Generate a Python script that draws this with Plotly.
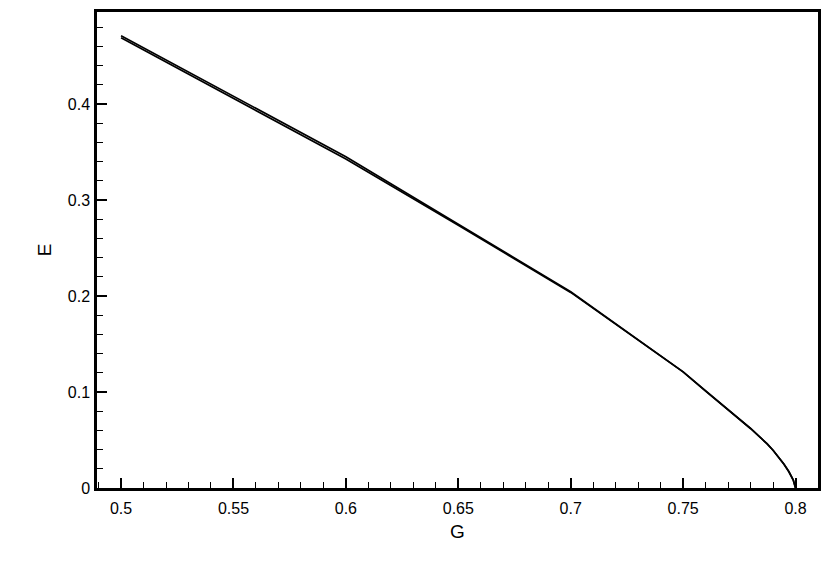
import plotly.graph_objects as go

# curve 1 (slightly upper one between 0.5 and 0.7)
g_1 = [0.5, 0.6, 0.7, 0.75, 0.76, 0.774, 0.78, 0.7874, 0.79, 0.7948, 0.797, 0.799, 0.8]
e_1 = [0.4712, 0.3452, 0.2045, 0.121, 0.101, 0.074, 0.062, 0.046, 0.0394, 0.025, 0.0172, 0.0082, 0.0]

# curve 2
g_2 = [0.5, 0.55, 0.6, 0.65, 0.7, 0.75, 0.76, 0.774, 0.78, 0.7874, 0.79, 0.7948, 0.797, 0.799, 0.8]
e_2 = [0.4692, 0.4062, 0.3428, 0.2738, 0.2038, 0.121, 0.101, 0.074, 0.062, 0.046, 0.0394, 0.025, 0.0172, 0.0082, 0.0]

x_ticks = [0.5, 0.55, 0.6, 0.65, 0.7, 0.75, 0.8]
x_labels = ["0.5", "0.55", "0.6", "0.65", "0.7", "0.75", "0.8"]
y_ticks = [0, 0.1, 0.2, 0.3, 0.4]
y_labels = ["0", "0.1", "0.2", "0.3", "0.4"]

font_name = "Liberation Sans, Arial, sans-serif"

fig = go.Figure()
fig.add_trace(go.Scatter(x=g_1, y=e_1, mode="lines", line=dict(color="black", width=1.7)))
fig.add_trace(go.Scatter(x=g_2, y=e_2, mode="lines", line=dict(color="black", width=1.7)))

axis_common = dict(
    showgrid=False, zeroline=False, automargin=False,
    showline=True, linecolor="black", linewidth=2.5, mirror=True,
    ticks="inside", ticklen=10, tickwidth=2, tickcolor="black",
    tickfont=dict(family=font_name, size=16, color="black"),
)

fig.update_xaxes(
    range=[0.4893, 0.81], tickvals=x_ticks, ticktext=x_labels,
    ticklabelstandoff=4,
    minor=dict(dtick=0.01, tick0=0.5, ticks="inside", ticklen=6, tickwidth=1, tickcolor="black"),
    title=dict(text="G", font=dict(family=font_name, size=19, color="black"), standoff=9),
    **axis_common,
)
fig.update_yaxes(
    range=[0, 0.496], tickvals=y_ticks, ticktext=y_labels,
    ticklabelstandoff=1,
    minor=dict(dtick=0.02, tick0=0, ticks="inside", ticklen=6, tickwidth=1, tickcolor="black"),
    title=dict(text="E", font=dict(family=font_name, size=19, color="black"), standoff=12),
    **axis_common,
)

# page body keeps an 8px margin, so the figure is a bit smaller than the window
fig.update_layout(
    width=822, height=578,
    margin=dict(l=89, r=12, t=4, b=98),
    paper_bgcolor="white", plot_bgcolor="white",
    showlegend=False,
)

fig.write_html("out.html")
